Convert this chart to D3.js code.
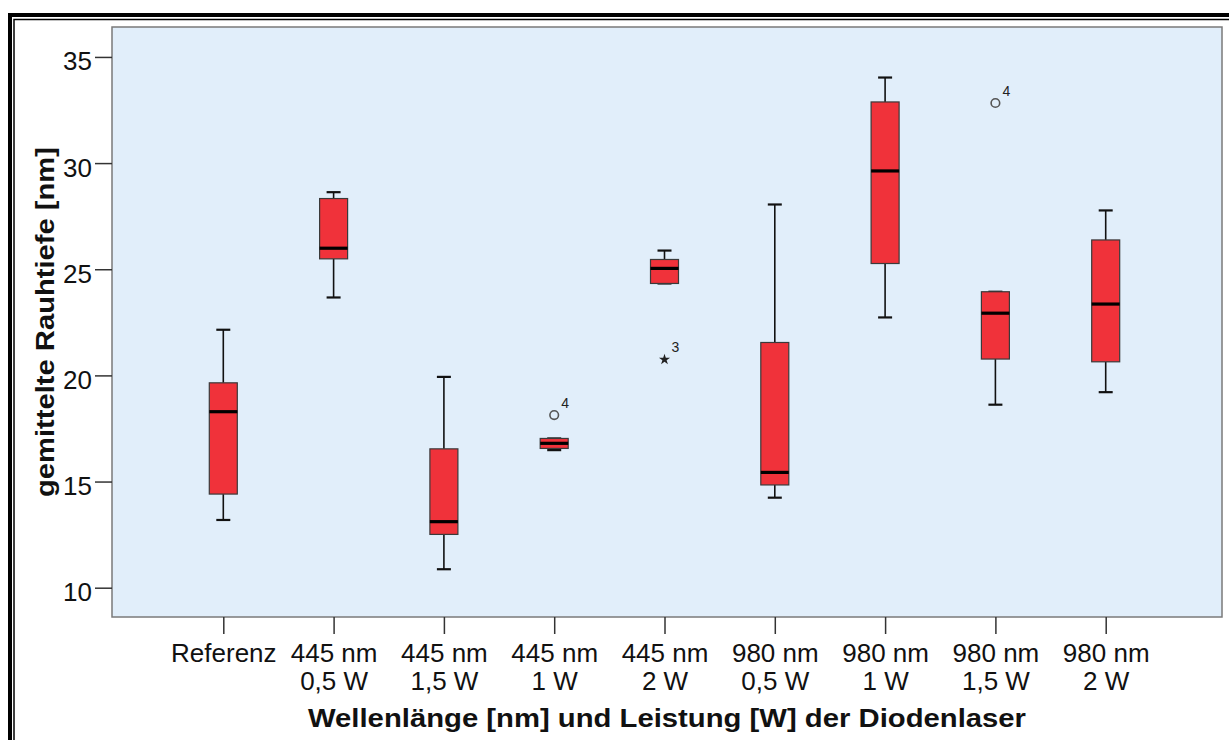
<!DOCTYPE html>
<html>
<head>
<meta charset="utf-8">
<script src="https://cdn.jsdelivr.net/npm/d3@7"></script>
<style>
  body { margin: 0; background: #fff; }
  svg { display: block; font-family: "Liberation Sans", Arial, sans-serif; }
</style>
</head>
<body>
<div id="graph"></div>
<script>
// categories and two-line tick labels
const categories = ["Referenz", "445 nm 0,5 W", "445 nm 1,5 W", "445 nm 1 W", "445 nm 2 W",
  "980 nm 0,5 W", "980 nm 1 W", "980 nm 1,5 W", "980 nm 2 W"];
const labelTop = ["Referenz", "445 nm", "445 nm", "445 nm", "445 nm", "980 nm", "980 nm", "980 nm", "980 nm"];
const labelBottom = ["", "0,5 W", "1,5 W", "1 W", "2 W", "0,5 W", "1 W", "1,5 W", "2 W"];

// box statistics
const whiskerLow = [13.19, 23.67, 10.87, 16.48, 24.33, 14.24, 22.73, 18.62, 19.21];
const q1 = [14.41, 25.49, 12.51, 16.56, 24.33, 14.84, 25.27, 20.77, 20.64];
const median = [18.29, 25.99, 13.11, 16.80, 25.04, 15.43, 29.63, 22.93, 23.36];
const q3 = [19.65, 28.33, 16.54, 17.03, 25.46, 21.55, 32.88, 23.94, 26.38];
const whiskerHigh = [22.15, 28.63, 19.93, 17.03, 25.88, 28.05, 34.03, 23.94, 27.77];

// outliers
const outlierCat = ["445 nm 1 W", "445 nm 2 W", "980 nm 1,5 W"];
const outlierValue = [18.13, 20.75, 32.83];
const outlierCase = ["4", "3", "4"];
const outlierKind = ["circle", "star", "circle"];

const yTicks = [10, 15, 20, 25, 30, 35];

const W = 1229, H = 740;
const plot = { left: 112, top: 27, right: 1222, bottom: 617 };

const svg = d3.select("#graph").append("svg")
  .attr("width", W).attr("height", H);

svg.append("rect").attr("width", W).attr("height", H).attr("fill", "#fff");

// outer frame (double line)
svg.append("rect")
  .attr("x", 10).attr("y", 15).attr("width", W + 20).attr("height", H + 20)
  .attr("fill", "none").attr("stroke", "#000").attr("stroke-width", 4);
svg.append("rect")
  .attr("x", 14).attr("y", 19.5).attr("width", W + 20).attr("height", H + 20)
  .attr("fill", "none").attr("stroke", "#000").attr("stroke-width", 1.5);

// scales
const y = d3.scaleLinear().domain([8.62, 36.41]).range([plot.bottom, plot.top]);
const x = d3.scalePoint().domain(categories).range([113, 1216]).padding(1);

// plot background
svg.append("rect")
  .attr("x", plot.left).attr("y", plot.top)
  .attr("width", plot.right - plot.left).attr("height", plot.bottom - plot.top)
  .attr("fill", "#e1eefa").attr("stroke", "#7a7a7a").attr("stroke-width", 1.5);

// y axis
const yAxis = svg.append("g")
  .attr("transform", "translate(" + plot.left + ",0)")
  .call(d3.axisLeft(y).tickValues(yTicks).tickSize(17).tickPadding(3));
yAxis.select(".domain").remove();
yAxis.selectAll(".tick line").attr("stroke", "#333").attr("stroke-width", 1.5);
yAxis.selectAll(".tick text")
  .attr("font-size", 26).attr("fill", "#111").attr("dy", "0.5em")
  .style("font-family", "'Liberation Sans', Arial, sans-serif");

// x axis
const xAxis = svg.append("g")
  .attr("transform", "translate(0," + plot.bottom + ")")
  .call(d3.axisBottom(x).tickSize(17).tickFormat(""));
xAxis.select(".domain").remove();
xAxis.selectAll(".tick line").attr("stroke", "#333").attr("stroke-width", 1.5);
xAxis.selectAll(".tick").each(function(d, i) {
  const t = d3.select(this).append("text")
    .attr("text-anchor", "middle").attr("font-size", 26).attr("fill", "#111")
    .style("font-family", "'Liberation Sans', Arial, sans-serif");
  t.append("tspan").attr("x", 0).attr("y", 45).text(labelTop[i]);
  if (labelBottom[i]) t.append("tspan").attr("x", 0).attr("y", 72.5).text(labelBottom[i]);
});

// axis titles
svg.append("text")
  .attr("x", (plot.left + plot.right) / 2).attr("y", 727)
  .attr("text-anchor", "middle").attr("font-size", 26).attr("font-weight", "bold")
  .attr("fill", "#111")
  .attr("textLength", 718).attr("lengthAdjust", "spacingAndGlyphs")
  .text("Wellenlänge [nm] und Leistung [W] der Diodenlaser");

svg.append("text")
  .attr("transform", "translate(54," + (plot.top + plot.bottom) / 2 + ") rotate(-90)")
  .attr("text-anchor", "middle").attr("font-size", 26).attr("font-weight", "bold")
  .attr("fill", "#111")
  .attr("textLength", 350).attr("lengthAdjust", "spacingAndGlyphs")
  .text("gemittelte Rauhtiefe [nm]");

// boxes
const boxW = 28, capW = 14;
const boxes = svg.append("g").selectAll("g")
  .data(categories)
  .enter().append("g")
  .attr("transform", d => "translate(" + x(d) + ",0)");

boxes.append("line")
  .attr("y1", (d, i) => y(whiskerHigh[i])).attr("y2", (d, i) => y(q3[i]))
  .attr("stroke", "#111").attr("stroke-width", 1.6);
boxes.append("line")
  .attr("y1", (d, i) => y(whiskerLow[i])).attr("y2", (d, i) => y(q1[i]))
  .attr("stroke", "#111").attr("stroke-width", 1.6);
boxes.append("line")
  .attr("x1", -capW / 2).attr("x2", capW / 2)
  .attr("y1", (d, i) => y(whiskerHigh[i])).attr("y2", (d, i) => y(whiskerHigh[i]))
  .attr("stroke", "#111").attr("stroke-width", 2.2);
boxes.append("line")
  .attr("x1", -capW / 2).attr("x2", capW / 2)
  .attr("y1", (d, i) => y(whiskerLow[i])).attr("y2", (d, i) => y(whiskerLow[i]))
  .attr("stroke", "#111").attr("stroke-width", 2.2);
boxes.append("rect")
  .attr("x", -boxW / 2).attr("width", boxW)
  .attr("y", (d, i) => y(q3[i]))
  .attr("height", (d, i) => y(q1[i]) - y(q3[i]))
  .attr("fill", "#f0323a").attr("stroke", "#3a3a3a").attr("stroke-width", 1.2);
boxes.append("line")
  .attr("x1", -boxW / 2).attr("x2", boxW / 2)
  .attr("y1", (d, i) => y(median[i])).attr("y2", (d, i) => y(median[i]))
  .attr("stroke", "#000").attr("stroke-width", 3.2);

// outliers
const out = svg.append("g").selectAll("g")
  .data(outlierCat)
  .enter().append("g")
  .attr("transform", (d, i) => "translate(" + x(d) + "," + y(outlierValue[i]) + ")");

out.filter((d, i) => outlierKind[i] === "circle").append("circle")
  .attr("r", 4.3).attr("fill", "none").attr("stroke", "#555").attr("stroke-width", 1.6);
out.filter((d, i) => outlierKind[i] === "star").append("path")
  .attr("d", d3.symbol().type(d3.symbolStar).size(38))
  .attr("fill", "#222");
out.append("text")
  .attr("x", 11).attr("y", -7)
  .attr("text-anchor", "middle").attr("font-size", 14).attr("fill", "#222")
  .text((d, i) => outlierCase[i]);
</script>
</body>
</html>
